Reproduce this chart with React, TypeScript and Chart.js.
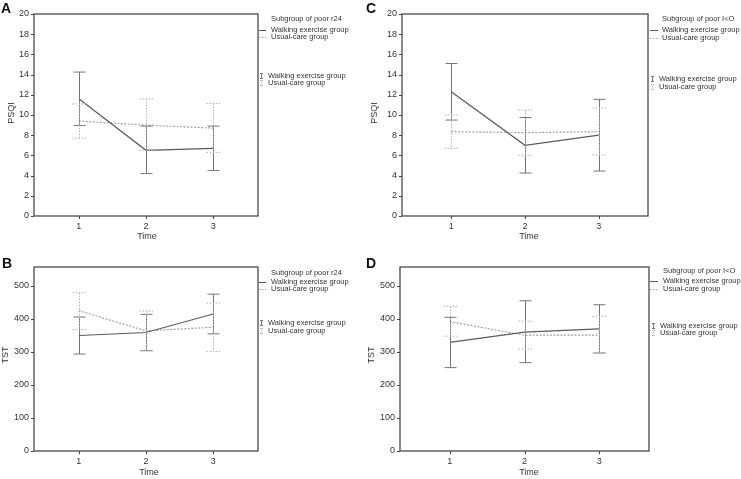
import React, { useEffect, useRef } from 'react';
import { Chart, registerables } from 'chart.js';
Chart.register(...registerables);

const FONT = '"Liberation Sans", Arial, Helvetica, sans-serif';

// ---------- data ----------
const times = [1, 2, 3];
const psqiTicks = [0, 2, 4, 6, 8, 10, 12, 14, 16, 18, 20];
const tstTicks = [0, 100, 200, 300, 400, 500];

// Panel A: PSQI, subgroup of poor r24
const aWalkMean = [11.6, 6.5, 6.7];
const aWalkHigh = [14.25, 8.9, 8.9];
const aWalkLow = [8.95, 4.2, 4.5];
const aUsualMean = [9.4, 9.0, 8.7];
const aUsualHigh = [11.1, 11.6, 11.15];
const aUsualLow = [7.7, 6.5, 6.3];

// Panel C: PSQI, subgroup of poor I<O
const cWalkMean = [12.3, 7.0, 8.0];
const cWalkHigh = [15.1, 9.75, 11.55];
const cWalkLow = [9.5, 4.25, 4.45];
const cUsualMean = [8.35, 8.25, 8.35];
const cUsualHigh = [10.0, 10.5, 10.7];
const cUsualLow = [6.7, 6.0, 6.05];

// Panel B: TST, subgroup of poor r24
const bWalkMean = [349, 358, 414];
const bWalkHigh = [405, 413, 474];
const bWalkLow = [293, 303, 354];
const bUsualMean = [424, 363, 374];
const bUsualHigh = [478, 423, 447];
const bUsualLow = [367, 303, 301];

// Panel D: TST, subgroup of poor I<O
const dWalkMean = [328, 359, 369];
const dWalkHigh = [404, 454, 442];
const dWalkLow = [252, 267, 296];
const dUsualMean = [391, 350, 350];
const dUsualHigh = [437, 392, 407];
const dUsualLow = [347, 308, 296];

const groupLabels = ['Walking exercise group', 'Usual-care group'];

// ---------- styles ----------
const WALK_COLOR = '#5a5a5a';
const USUAL_COLOR = '#a0a0a0';
const WALK_ERR = '#747474';
const USUAL_ERR = '#b2b2b2';

const decorPlugin = {
  id: 'decor',
  afterDatasetsDraw(chart: any) {
    const ctx = chart.ctx;
    const xs = chart.scales.x;
    const ys = chart.scales.y;
    chart.data.datasets.forEach((ds: any) => {
      ctx.save();
      ctx.strokeStyle = ds.errColor;
      ctx.lineWidth = 1;
      ctx.setLineDash(ds.errDash);
      ds.data.forEach((pt: any, i: number) => {
        const x = Math.round(xs.getPixelForValue(pt.x)) + 0.5;
        const yh = ys.getPixelForValue(ds.errHigh[i]);
        const yl = ys.getPixelForValue(ds.errLow[i]);
        ctx.beginPath();
        ctx.moveTo(x, yh);
        ctx.lineTo(x, yl);
        ctx.moveTo(x - ds.capW, yh);
        ctx.lineTo(x + ds.capW, yh);
        ctx.moveTo(x - ds.capW, yl);
        ctx.lineTo(x + ds.capW, yl);
        ctx.stroke();
      });
      ctx.restore();
    });
  },
  afterDraw(chart: any) {
    const p = chart.options.plugins.decor;
    const ctx = chart.ctx;
    const a = chart.chartArea;
    const xs = chart.scales.x;
    const ys = chart.scales.y;
    ctx.save();
    // frame
    ctx.strokeStyle = '#4a4a4a';
    ctx.lineWidth = 1.3;
    ctx.strokeRect(a.left, a.top, a.right - a.left, a.bottom - a.top);
    // tick marks
    ctx.lineWidth = 1;
    ctx.strokeStyle = '#444';
    ctx.beginPath();
    p.yTicks.forEach((v: number) => {
      const y = Math.round(ys.getPixelForValue(v)) + 0.5;
      ctx.moveTo(a.left - 3, y);
      ctx.lineTo(a.left, y);
    });
    times.forEach((v: number) => {
      const x = Math.round(xs.getPixelForValue(v)) + 0.5;
      ctx.moveTo(x, a.bottom);
      ctx.lineTo(x, a.bottom + 3);
    });
    ctx.stroke();

    // panel letter
    ctx.fillStyle = '#111';
    ctx.font = `bold 14px ${FONT}`;
    ctx.textBaseline = 'middle';
    ctx.textAlign = 'left';
    ctx.fillText(p.letter, p.letterX, p.letterY);

    // axis titles
    ctx.fillStyle = '#333';
    ctx.font = `9px ${FONT}`;
    ctx.textAlign = 'center';
    ctx.fillText('Time', p.xTitleX, p.xTitleY);
    ctx.save();
    ctx.translate(p.yTitleX, p.yTitleY);
    ctx.rotate(-Math.PI / 2);
    ctx.fillText(p.yTitle, 0, 0);
    ctx.restore();

    // legend 1
    ctx.font = `7.5px ${FONT}`;
    ctx.textAlign = 'left';
    ctx.fillStyle = '#333';
    ctx.fillText(p.subgroup, p.legTextX, p.legRows[0]);
    ctx.fillText(groupLabels[0], p.legTextX, p.legRows[1]);
    ctx.fillText(groupLabels[1], p.legTextX, p.legRows[2]);
    ctx.lineWidth = 1;
    ctx.strokeStyle = WALK_COLOR;
    ctx.beginPath();
    ctx.moveTo(p.legLineX0, Math.round(p.legRows[1]) + 0.5);
    ctx.lineTo(p.legLineX1, Math.round(p.legRows[1]) + 0.5);
    ctx.stroke();
    ctx.strokeStyle = USUAL_COLOR;
    ctx.setLineDash([1.5, 1.5]);
    ctx.beginPath();
    ctx.moveTo(p.legLineX0, Math.round(p.legRows[2]) + 0.5);
    ctx.lineTo(p.legLineX1, Math.round(p.legRows[2]) + 0.5);
    ctx.stroke();
    ctx.setLineDash([]);

    // legend 2 (error bar glyphs)
    ctx.fillText(groupLabels[0], p.leg2TextX, p.leg2Rows[0]);
    ctx.fillText(groupLabels[1], p.leg2TextX, p.leg2Rows[1]);
    [0, 1].forEach((k) => {
      const gx = p.glyphX + 0.5;
      const gy = p.leg2Rows[k];
      ctx.strokeStyle = k === 0 ? WALK_ERR : USUAL_ERR;
      if (k === 1) ctx.setLineDash([1, 1]);
      ctx.beginPath();
      ctx.moveTo(gx, gy - 2.5);
      ctx.lineTo(gx, gy + 2.5);
      ctx.moveTo(gx - 1.5, gy - 2.5);
      ctx.lineTo(gx + 1.5, gy - 2.5);
      ctx.moveTo(gx - 1.5, gy + 2.5);
      ctx.lineTo(gx + 1.5, gy + 2.5);
      ctx.stroke();
      ctx.setLineDash([]);
    });
    ctx.restore();
  },
};

type Panel = {
  key: string;
  left: number; topPos: number; w: number; h: number;
  top: number; padRight: number; yW: number; xH: number;
  yMax: number; yTicks: number[];
  walkMean: number[]; walkHigh: number[]; walkLow: number[];
  usualMean: number[]; usualHigh: number[]; usualLow: number[];
  letter: string; letterX: number; letterY: number;
  yTitle: string; yTitleX: number; yTitleY: number;
  xTitleX: number; xTitleY: number;
  subgroup: string;
  legTextX: number; legRows: number[]; legLineX0: number; legLineX1: number;
  glyphX: number; leg2TextX: number; leg2Rows: number[];
};

const panels: Panel[] = [
  {
    key: 'A', left: 0, topPos: 0, w: 370, h: 240,
    top: 14, padRight: 112, yW: 34, xH: 24, yMax: 20, yTicks: psqiTicks,
    walkMean: aWalkMean, walkHigh: aWalkHigh, walkLow: aWalkLow,
    usualMean: aUsualMean, usualHigh: aUsualHigh, usualLow: aUsualLow,
    letter: 'A', letterX: 1, letterY: 9,
    yTitle: 'PSQI', yTitleX: 12, yTitleY: 113, xTitleX: 147, xTitleY: 237,
    subgroup: 'Subgroup of poor r24',
    legTextX: 271, legRows: [19, 29.5, 36.5], legLineX0: 259, legLineX1: 266,
    glyphX: 261, leg2TextX: 268, leg2Rows: [76, 83],
  },
  {
    key: 'C', left: 360, topPos: 0, w: 381, h: 240,
    top: 14, padRight: 93, yW: 42, xH: 24, yMax: 20, yTicks: psqiTicks,
    walkMean: cWalkMean, walkHigh: cWalkHigh, walkLow: cWalkLow,
    usualMean: cUsualMean, usualHigh: cUsualHigh, usualLow: cUsualLow,
    letter: 'C', letterX: 6, letterY: 9,
    yTitle: 'PSQI', yTitleX: 15, yTitleY: 113, xTitleX: 169, xTitleY: 237,
    subgroup: 'Subgroup of poor I<O',
    legTextX: 302, legRows: [19, 30, 38], legLineX0: 290, legLineX1: 298,
    glyphX: 292, leg2TextX: 299, leg2Rows: [79, 87],
  },
  {
    key: 'B', left: 0, topPos: 240, w: 370, h: 239,
    top: 27, padRight: 112, yW: 34, xH: 28, yMax: 556, yTicks: tstTicks,
    walkMean: bWalkMean, walkHigh: bWalkHigh, walkLow: bWalkLow,
    usualMean: bUsualMean, usualHigh: bUsualHigh, usualLow: bUsualLow,
    letter: 'B', letterX: 2, letterY: 24,
    yTitle: 'TST', yTitleX: 6, yTitleY: 115, xTitleX: 149, xTitleY: 233,
    subgroup: 'Subgroup of poor r24',
    legTextX: 271, legRows: [33, 42, 49], legLineX0: 259, legLineX1: 266,
    glyphX: 261, leg2TextX: 268, leg2Rows: [83, 91],
  },
  {
    key: 'D', left: 360, topPos: 240, w: 381, h: 239,
    top: 27, padRight: 92, yW: 40, xH: 28, yMax: 556, yTicks: tstTicks,
    walkMean: dWalkMean, walkHigh: dWalkHigh, walkLow: dWalkLow,
    usualMean: dUsualMean, usualHigh: dUsualHigh, usualLow: dUsualLow,
    letter: 'D', letterX: 6, letterY: 24,
    yTitle: 'TST', yTitleX: 12, yTitleY: 115, xTitleX: 169, xTitleY: 233,
    subgroup: 'Subgroup of poor I<O',
    legTextX: 303, legRows: [31, 41, 49], legLineX0: 290, legLineX1: 298,
    glyphX: 293, leg2TextX: 300, leg2Rows: [86, 93],
  },
];

function makeConfig(p: Panel): any {
  return {
    type: 'line',
    data: {
      datasets: [
        {
          label: groupLabels[0],
          data: times.map((t, i) => ({ x: t, y: p.walkMean[i] })),
          borderColor: WALK_COLOR,
          borderWidth: 1.2,
          pointRadius: 0,
          tension: 0,
          errHigh: p.walkHigh,
          errLow: p.walkLow,
          errColor: WALK_ERR,
          errDash: [],
          capW: 6,
        },
        {
          label: groupLabels[1],
          data: times.map((t, i) => ({ x: t, y: p.usualMean[i] })),
          borderColor: USUAL_COLOR,
          borderWidth: 1.2,
          borderDash: [2, 1.5],
          pointRadius: 0,
          tension: 0,
          errHigh: p.usualHigh,
          errLow: p.usualLow,
          errColor: USUAL_ERR,
          errDash: [1.5, 1.5],
          capW: 7,
        },
      ],
    },
    options: {
      animation: false,
      responsive: false,
      devicePixelRatio: 1,
      layout: { padding: { left: 0, top: p.top, right: p.padRight, bottom: 0 } },
      plugins: {
        legend: { display: false },
        tooltip: { enabled: false },
        decor: p,
      },
      scales: {
        x: {
          type: 'linear',
          min: 1 / 3,
          max: 11 / 3,
          grid: { display: false, drawTicks: false },
          border: { display: false },
          ticks: { font: { family: FONT, size: 9 }, color: '#333', padding: 5, maxRotation: 0 },
          afterBuildTicks: (s: any) => { s.ticks = times.map((v) => ({ value: v })); },
          afterFit: (s: any) => { s.height = p.xH; },
        },
        y: {
          type: 'linear',
          min: 0,
          max: p.yMax,
          grid: { display: false, drawTicks: false },
          border: { display: false },
          ticks: { font: { family: FONT, size: 9 }, color: '#333', padding: 5 },
          afterBuildTicks: (s: any) => { s.ticks = p.yTicks.map((v) => ({ value: v })); },
          afterFit: (s: any) => { s.width = p.yW; },
        },
      },
    },
    plugins: [decorPlugin],
  };
}

function PanelChart({ p }: { p: Panel }) {
  const ref = useRef<HTMLCanvasElement | null>(null);
  useEffect(() => {
    if (!ref.current) return;
    const chart = new Chart(ref.current, makeConfig(p));
    return () => chart.destroy();
  }, [p]);
  return (
    <canvas
      ref={ref}
      width={p.w}
      height={p.h}
      style={{ position: 'absolute', left: p.left, top: p.topPos, width: p.w, height: p.h }}
    />
  );
}

export default function App() {
  return (
    <div style={{ position: 'absolute', left: 0, top: 0, width: 741, height: 479, background: '#fff', overflow: 'hidden' }}>
      {panels.map((p) => (
        <PanelChart key={p.key} p={p} />
      ))}
    </div>
  );
}
